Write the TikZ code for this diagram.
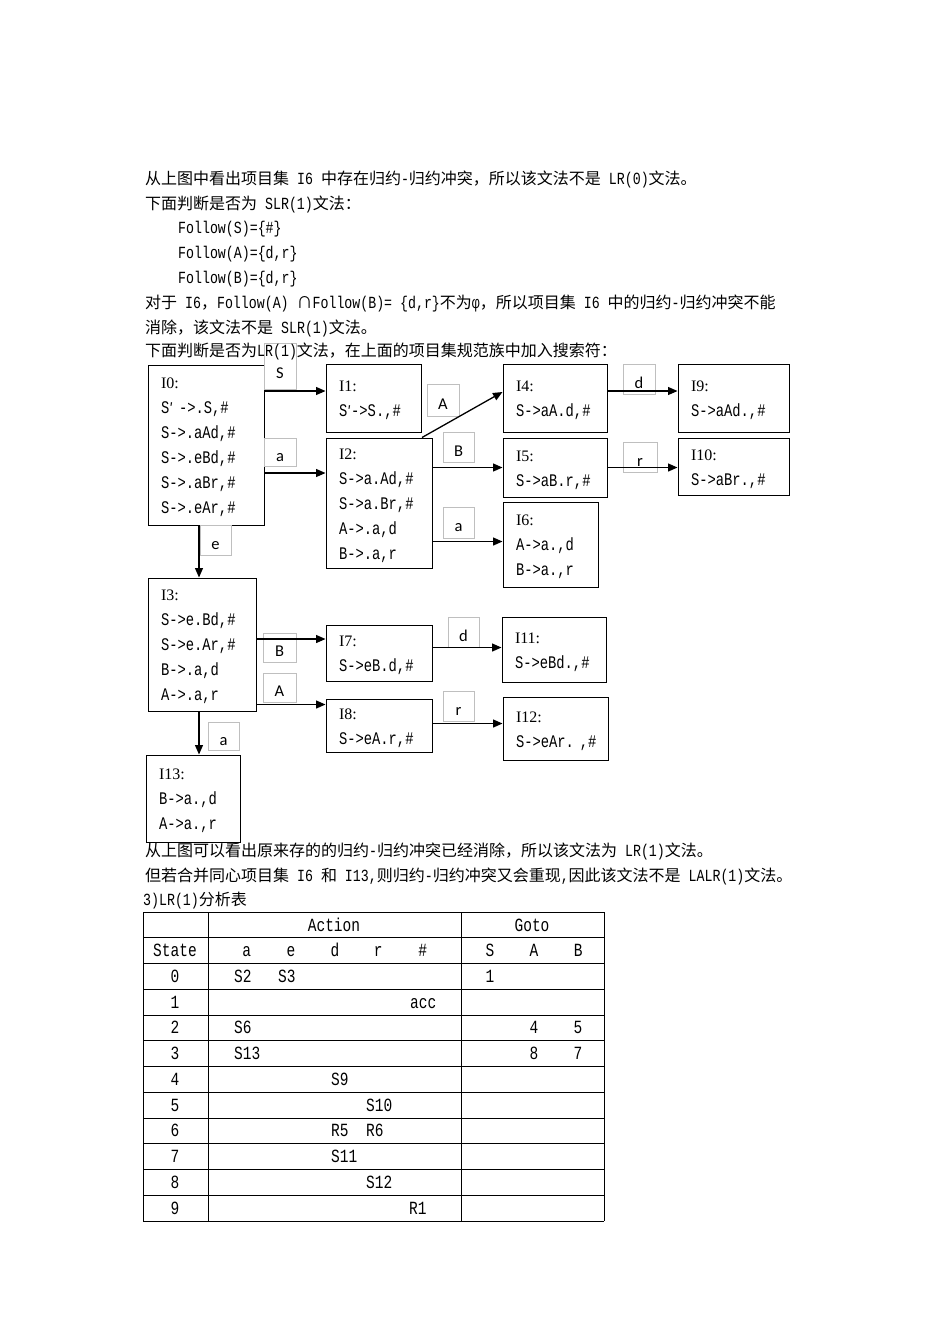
\documentclass[tikz,border=0pt]{standalone}
\usepackage{fontspec}
\setmainfont{Liberation Mono}[FakeStretch=0.78]
\newfontfamily\cjk{Noto Sans CJK SC}
\newfontfamily\tnr{Liberation Serif}
\newfontfamily\sym{Carlito}
\usetikzlibrary{arrows.meta,calc}

\newcommand{\zh}[1]{{\cjk\fontsize{16pt}{25pt}\selectfont #1}}
\newcommand{\ttl}[1]{\rule{0pt}{16pt}{\tnr\fontsize{16pt}{25pt}\selectfont #1}}
\newcommand{\sprime}{{\cjk\fontsize{14pt}{25pt}\selectfont ′}}
\newcommand{\bodyfont}{\fontsize{17pt}{25pt}\selectfont}
\newcommand{\itemfont}{\fontsize{17.7pt}{25pt}\selectfont\exhyphenpenalty=10000 \hyphenpenalty=10000 }
\newcommand{\tabfont}{\fontsize{18.6pt}{25pt}\selectfont}

\tikzset{
	itemset/.style={rectangle, draw=black, line width=1pt, inner xsep=13pt, inner ysep=0pt,
		align=left, font=\itemfont},
	symbox/.style={rectangle, draw=black!25, line width=0.7pt, fill=white, inner sep=0pt,
		minimum width=32pt, minimum height=30pt, text height=20pt, text depth=2pt,
		font=\sym\fontsize{16.5pt}{18pt}\selectfont},
	gotoarr/.style={-{Triangle[length=9.5pt,width=8pt]}, line width=1.3pt},
	bodyline/.style={anchor=base west, inner sep=0pt, font=\bodyfont},
	cell/.style={anchor=base, inner sep=0pt, font=\tabfont},
	tabrule/.style={line width=1pt}
}

\begin{document}
\begin{tikzpicture}[x=1pt,y=-1pt]
	\fill[white] (0,0) rectangle (950,1344);
	\useasboundingbox (0,0) rectangle (950,1344);
	% item sets
	\node[itemset, text width=90pt, minimum height=160pt] (I0) at (206,445)
		{\ttl{I0:}\\S\sprime{} ->.S,\#\\S->.aAd,\#\\S->.eBd,\#\\S->.aBr,\#\\S->.eAr,\#};
	\node[itemset, text width=69pt, minimum height=68pt] (I1) at (373.5,398)
		{\ttl{I1:}\\S\sprime->S.,\#};
	\node[itemset, text width=80pt, minimum height=130pt] (I2) at (379,503)
		{\ttl{I2:}\\S->a.Ad,\#\\S->a.Br,\#\\A->.a,d\\B->.a,r};
	\node[itemset, text width=78pt, minimum height=68pt] (I4) at (555,398)
		{\ttl{I4:}\\S->aA.d,\#};
	\node[itemset, text width=85pt, minimum height=68pt] (I9) at (733.5,398)
		{\ttl{I9:}\\S->aAd.,\#};
	\node[itemset, text width=78pt, minimum height=59pt] (I5) at (555,467.5)
		{\ttl{I5:}\\S->aB.r,\#};
	\node[itemset, text width=85pt, minimum height=57pt] (I10) at (733.5,466.5)
		{\ttl{I10:}\\S->aBr.,\#};
	\node[itemset, text width=69pt, minimum height=85pt] (I6) at (550.5,544.5)
		{\ttl{I6:}\\A->a.,d\\B->a.,r};
	\node[itemset, text width=82pt, minimum height=133pt] (I3) at (202,644.5)
		{\ttl{I3:}\\S->e.Bd,\#\\S->e.Ar,\#\\B->.a,d\\A->.a,r};
	\node[itemset, text width=80pt, minimum height=56pt] (I7) at (379,653)
		{\ttl{I7:}\\S->eB.d,\#};
	\node[itemset, text width=80pt, minimum height=53pt] (I8) at (379,725.5)
		{\ttl{I8:}\\S->eA.r,\#};
	\node[itemset, text width=78pt, minimum height=65pt] (I11) at (554,649.5)
		{\ttl{I11:}\\S->eBd.,\#};
	\node[itemset, text width=79pt, minimum height=63pt] (I12) at (555.5,728.5)
		{\ttl{I12:}\\S->eAr.~,\#};
	\node[itemset, text width=68pt, minimum height=87pt] (I13) at (193,798.5)
		{\ttl{I13:}\\B->a.,d\\A->a.,r};
	% symbol boxes
	\node[symbox, minimum height=46pt, text height=26pt] (lS) at (280,366) {S};
	\node[symbox, minimum height=32pt] (lA) at (443,400) {A};
	\node[symbox, minimum height=28pt] (la1) at (280,452) {a};
	\node[symbox, minimum width=31pt] (lB) at (458.5,447) {B};
	\node[symbox, minimum width=31pt, minimum height=31pt] (la2) at (458.5,522.5) {a};
	\node[symbox, minimum width=31pt] (le) at (215.5,540) {e};
	\node[symbox] (ld1) at (639,379) {d};
	\node[symbox, minimum width=34pt] (lr1) at (640,457) {r};
	\node[symbox, minimum width=33pt, minimum height=29pt] (lB2) at (279.5,647.5) {B};
	\node[symbox, minimum width=33pt, minimum height=29pt] (lA2) at (279.5,687.5) {A};
	\node[symbox, minimum width=31pt] (ld2) at (463.5,632) {d};
	\node[symbox, minimum width=31pt] (lr2) at (458.5,706) {r};
	\node[symbox, minimum width=31pt, minimum height=28pt] (la3) at (223.5,736) {a};
	% transitions
	\draw[gotoarr] ($(I0.east |- I1.west)+(0,-7)$) -- ($(I1.west)+(0,-7)$);
	\draw[gotoarr] ($(I0.east |- I2.west)+(0,-30)$) -- ($(I2.west)+(0,-30)$);
	\draw[gotoarr] ($(I0.south -| I3.north)+(-3,0)$) -- ($(I3.north)+(-3,0)$);
	\draw[gotoarr] ($(I2.north)+(43,0)$) -- ($(I4.west)+(0,-6)$);
	\draw[gotoarr] (I2.east |- I5.west) -- (I5.west);
	\draw[gotoarr] ($(I2.east |- I6.west)+(0,-3)$) -- ($(I6.west)+(0,-3)$);
	\draw[gotoarr] ($(I4.east)+(0,-7)$) -- ($(I9.west)+(0,-7)$);
	\draw[gotoarr] (I5.east) -- (I10.west |- I5.east);
	\draw[gotoarr] ($(I3.east |- I7.west)+(0,-14)$) -- ($(I7.west)+(0,-14)$);
	\draw[gotoarr] ($(I3.east |- I8.west)+(0,-21)$) -- ($(I8.west)+(0,-21)$);
	\draw[gotoarr] ($(I3.south)+(-3,0)$) -- ($(I3.south |- I13.north)+(-3,0)$);
	\draw[gotoarr] ($(I7.east |- I11.west)+(0,-2)$) -- ($(I11.west)+(0,-2)$);
	\draw[gotoarr] ($(I8.east |- I12.west)+(0,-5)$) -- ($(I12.west)+(0,-5)$);
	% text
	\node[bodyline] (t1) at (145,184) {\zh{从上图中看出项目集} I6 \zh{中存在归约}-\zh{归约冲突，所以该文法不是} LR(0)\zh{文法。}};
	\node[bodyline] (t2) at (145,209) {\zh{下面判断是否为} SLR(1)\zh{文法：}};
	\node[bodyline] (t3) at (178,233) {Follow(S)=\{\#\}};
	\node[bodyline] (t4) at (178,258) {Follow(A)=\{d,r\}};
	\node[bodyline] (t5) at (178,283) {Follow(B)=\{d,r\}};
	\node[bodyline] (t6) at (145,308) {\zh{对于} I6\zh{，}Follow(A) \zh{∩}Follow(B)= \{d,r\}\zh{不为}φ\zh{，所以项目集} I6 \zh{中的归约}-\zh{归约冲突不能}};
	\node[bodyline] (t7) at (145,333) {\zh{消除，该文法不是} SLR(1)\zh{文法。}};
	\node[bodyline] (t8) at (145,356) {\zh{下面判断是否为}LR(1)\zh{文法，在上面的项目集规范族中加入搜索符：}};
	\node[bodyline] (t9) at (145,856) {\zh{从上图可以看出原来存的的归约}-\zh{归约冲突已经消除，所以该文法为} LR(1)\zh{文法。}};
	\node[bodyline] (t10) at (145,881) {\zh{但若合并同心项目集} I6 \zh{和} I13,\zh{则归约}-\zh{归约冲突又会重现},\zh{因此该文法不是} LALR(1)\zh{文法。}};
	\node[bodyline] (t11) at (143,905) {3)LR(1)\zh{分析表}};
	% LR(1) table
	\foreach \k in {0,...,12}
		\draw[tabrule] (143,{912+25.75*\k}) -- (604,{912+25.75*\k});
	\foreach \x in {143,208,461,604}
		\draw[tabrule] (\x,912) -- (\x,1221);
	\node[cell] (hAct) at (334,931) {Action};
	\node[cell] (hGoto) at (532,931) {Goto};
	\node[cell] (hState) at (175,956.5) {State};
	\foreach \s/\x in {a/246.7,e/291,d/335,r/378.3,S/490,A/534,B/578.3}
		\node[cell] (h\s) at (\x,956.5) {\s};
	\node[cell] (hEnd) at (422.7,956.5) {\#};
	\foreach \i in {0,...,9}
		\node[cell] (st\i) at (175,{912+25.75*(\i+2.5)+6}) {\i};
	\foreach \r/\x/\t in {0/234/S2,0/278/S3,1/410/acc,2/234/S6,3/234/S13,4/331/S9,5/366/S10,
		6/331/R5,6/366/R6,7/331/S11,8/366/S12,9/409/R1}
		\node[cell, anchor=base west] (act\r\t) at (\x,{912+25.75*(\r+2.5)+6}) {\t};
	\foreach \r/\x/\t in {0/490/1,2/534/4,2/578/5,3/534/8,3/578/7}
		\node[cell] (go\r-\x) at (\x,{912+25.75*(\r+2.5)+6}) {\t};
\end{tikzpicture}
\end{document}
